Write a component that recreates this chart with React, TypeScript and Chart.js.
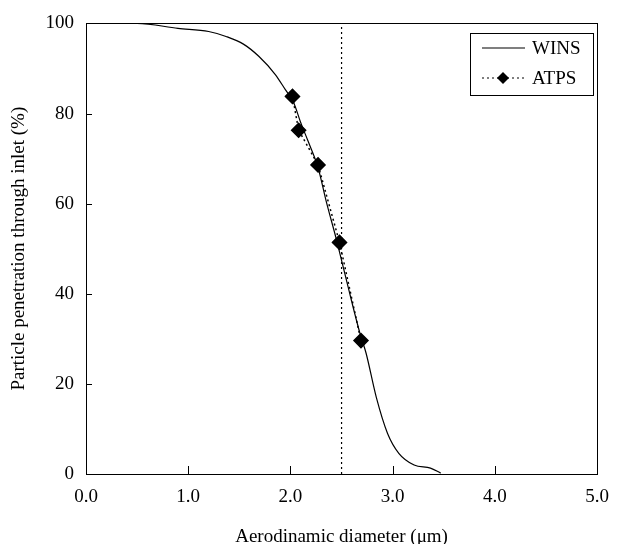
import React, { useEffect, useRef } from "react";
import { Chart, registerables } from "chart.js";

Chart.register(...registerables);

const winsX = [0, 0.5, 0.9, 1.2, 1.37, 1.54, 1.69, 1.85, 1.95, 2.03, 2.1, 2.17, 2.27, 2.35, 2.45, 2.55, 2.68, 2.74, 2.84, 2.95, 3.06, 3.21, 3.37, 3.47];
const winsY = [100, 100, 98.9, 98.2, 97.1, 95.4, 92.7, 88.7, 85.3, 82.5, 78, 74, 68, 60.5, 52, 42.8, 31.2, 26.8, 17, 9, 4.6, 2, 1.3, 0.2];

const atpsX = [2.02, 2.08, 2.27, 2.48, 2.69];
const atpsY = [83.8, 76.3, 68.6, 51.4, 29.6];

const cutoffX = 2.5;
const yRange = [0, 100];

const xTicks = [0, 1, 2, 3, 4, 5];
const yTicks = [0, 20, 40, 60, 80, 100];

const FONT = "'Liberation Serif', 'Times New Roman', serif";

const framePlugin = {
  id: "frame",
  afterDatasetsDraw(chart: any) {
    const { ctx, chartArea: a, scales } = chart;
    ctx.save();
    ctx.strokeStyle = "#000";
    ctx.lineWidth = 1;
    ctx.strokeRect(Math.round(a.left) + 0.5, Math.round(a.top) + 0.5, Math.round(a.right - a.left), Math.round(a.bottom - a.top));
    ctx.beginPath();
    xTicks.slice(1, -1).forEach((v) => {
      const x = Math.round(scales.x.getPixelForValue(v)) + 0.5;
      ctx.moveTo(x, a.bottom);
      ctx.lineTo(x, a.bottom - 8);
    });
    yTicks.slice(1, -1).forEach((v) => {
      const y = Math.round(scales.y.getPixelForValue(v)) + 0.5;
      ctx.moveTo(a.left, y);
      ctx.lineTo(a.left + 6, y);
    });
    ctx.stroke();
    ctx.restore();
  },
};

const legendPlugin = {
  id: "boxLegend",
  afterDraw(chart: any) {
    const { ctx } = chart;
    const ds = chart.data.datasets.filter((d: any) => d.label);
    const bx = 470.5, by = 33.5, bw = 123, bh = 62;
    ctx.save();
    ctx.fillStyle = "#fff";
    ctx.fillRect(bx, by, bw, bh);
    ctx.strokeStyle = "#000";
    ctx.lineWidth = 1;
    ctx.strokeRect(bx, by, bw, bh);
    ds.forEach((d: any, i: number) => {
      const y = 48 + i * 30;
      ctx.strokeStyle = "#000";
      ctx.lineWidth = 1.2;
      ctx.setLineDash(d.borderDash || []);
      ctx.beginPath();
      ctx.moveTo(482, y);
      ctx.lineTo(525, y);
      ctx.stroke();
      ctx.setLineDash([]);
      if (d.pointRadius > 0) {
        const cx = 503, r = 6;
        ctx.fillStyle = "#000";
        ctx.beginPath();
        ctx.moveTo(cx, y - r);
        ctx.lineTo(cx + r, y);
        ctx.lineTo(cx, y + r);
        ctx.lineTo(cx - r, y);
        ctx.closePath();
        ctx.fill();
      }
      ctx.fillStyle = "#000";
      ctx.font = `19px ${FONT}`;
      ctx.textBaseline = "middle";
      ctx.textAlign = "left";
      ctx.fillText(d.label, 532, y + 1);
    });
    ctx.restore();
  },
};

export default function App() {
  const ref = useRef<HTMLCanvasElement>(null);
  useEffect(() => {
    if (!ref.current) return;
    const chart = new Chart(ref.current, {
      type: "line",
      data: {
        datasets: [
          {
            label: "WINS",
            data: winsX.map((x, i) => ({ x, y: winsY[i] })),
            borderColor: "#000",
            borderWidth: 1.2,
            pointRadius: 0,
            cubicInterpolationMode: "monotone",
            fill: false,
          },
          {
            label: "ATPS",
            data: atpsX.map((x, i) => ({ x, y: atpsY[i] })),
            borderColor: "#000",
            backgroundColor: "#000",
            borderWidth: 1.5,
            borderDash: [2, 3],
            pointStyle: "rectRot",
            pointRadius: 7,
            pointBackgroundColor: "#000",
            pointBorderColor: "#000",
            fill: false,
          },
          {
            label: "",
            data: yRange.map((y) => ({ x: cutoffX, y })),
            borderColor: "#000",
            borderWidth: 1.2,
            borderDash: [2, 3],
            pointRadius: 0,
            fill: false,
          },
        ],
      },
      options: {
        animation: false,
        responsive: true,
        maintainAspectRatio: false,
        layout: { padding: { top: 22, right: 11, bottom: 0, left: 0 } },
        plugins: { legend: { display: false }, tooltip: { enabled: false } },
        scales: {
          x: {
            type: "linear",
            min: 0,
            max: 5,
            afterBuildTicks: (s: any) => {
              s.ticks = xTicks.map((v) => ({ value: v }));
            },
            ticks: {
              callback: (v: any) => Number(v).toFixed(1),
              font: { family: FONT, size: 19 },
              color: "#000",
              padding: 12,
              maxRotation: 0,
            },
            grid: { display: false, drawTicks: false },
            border: { display: false },
            title: {
              display: true,
              text: "Aerodinamic diameter (μm)",
              font: { family: FONT, size: 19 },
              color: "#000",
              padding: { top: 0, bottom: -4 },
            },
            afterFit: (s: any) => {
              s.height = 70;
            },
          },
          y: {
            type: "linear",
            min: 0,
            max: 100,
            afterBuildTicks: (s: any) => {
              s.ticks = yTicks.map((v) => ({ value: v }));
            },
            ticks: {
              font: { family: FONT, size: 19 },
              color: "#000",
              padding: 12,
            },
            grid: { display: false, drawTicks: false },
            border: { display: false },
            title: {
              display: true,
              text: "Particle penetration through inlet (%)",
              font: { family: FONT, size: 19 },
              color: "#000",
              padding: { top: 8, bottom: 0 },
            },
            afterFit: (s: any) => {
              s.width = 86;
            },
          },
        },
      },
      plugins: [framePlugin, legendPlugin],
    } as any);
    return () => chart.destroy();
  }, []);
  return (
    <div style={{ position: "fixed", left: 0, top: 0, width: 621, height: 544, background: "#fff" }}>
      <canvas ref={ref} />
    </div>
  );
}
